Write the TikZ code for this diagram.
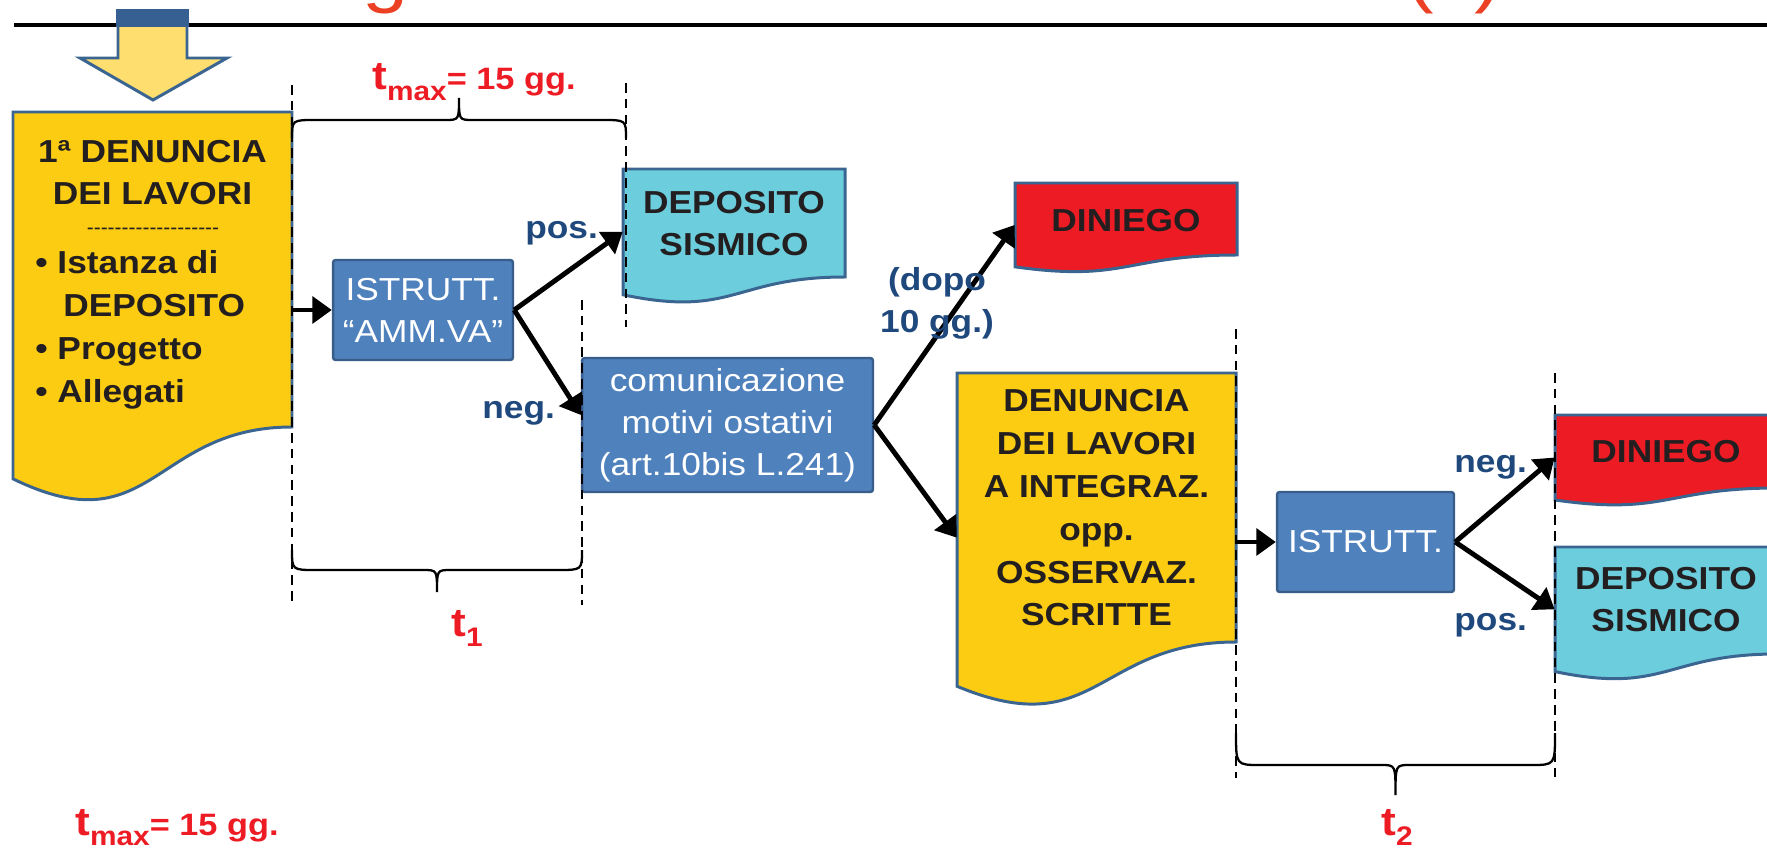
\documentclass[tikz,border=0pt]{standalone}
\usepackage{fontspec}
\setmainfont{Liberation Sans}[FakeStretch=1.11]
\newfontfamily\plainsans{Liberation Sans}
\usepackage{tikz}
\usetikzlibrary{arrows.meta,calc}
\definecolor{docblue}{RGB}{58,101,145}
\definecolor{docyellow}{RGB}{252,204,18}
\definecolor{doccyan}{RGB}{108,205,220}
\definecolor{docred}{RGB}{237,28,36}
\definecolor{boxblue}{RGB}{79,129,189}
\definecolor{boxline}{RGB}{56,93,138}
\definecolor{tagblue}{RGB}{31,73,125}
\definecolor{tred}{RGB}{237,28,36}
\definecolor{titlered}{RGB}{236,64,36}
\definecolor{inkdark}{RGB}{35,31,32}
\definecolor{arrowfill}{RGB}{253,222,110}
\definecolor{arrowtop}{RGB}{55,96,146}
\newcommand{\boxfont}{\fontsize{18.1}{23.8}\selectfont}
\newcommand{\tallfont}{\fontsize{18.1}{24.4}\selectfont}
\tikzstyle{docline}=[draw=docblue, line width=1.7pt]
\tikzstyle{bluebox}=[draw=boxline, fill=boxblue, line width=1.4pt, rounded corners=1.5pt, text=white, font=\boxfont, align=center, inner sep=0pt]
\tikzstyle{doctext}=[text=inkdark, font=\boxfont\bfseries, align=center, inner sep=0pt]
\tikzstyle{flow}=[-{Triangle[length=11pt,width=15pt]}, line width=2.8pt]
\tikzstyle{timeline}=[line width=0.9pt, dash pattern=on 5.5pt off 3.5pt]
\tikzstyle{braceline}=[line width=1.3pt]
\tikzstyle{tag}=[text=tagblue, font=\boxfont\bfseries, inner sep=0pt]
\tikzstyle{tlabel}=[text=tred, font=\fontsize{17.6}{20}\selectfont\bfseries, inner sep=0pt]
\tikzstyle{titlebit}=[text=titlered, font=\fontsize{42.5}{45}\selectfont, anchor=base, inner sep=0pt]
\newcommand{\tsym}[1]{{\fontsize{22.7}{24}\selectfont t}\raisebox{-5.7pt}{\fontsize{15.3}{16}\selectfont #1}}
% document shape: fill, name, left, top, right, bottom at the right edge
\newcommand{\docbox}[6]{
	\pgfmathsetmacro{\docH}{(#6-#4)/0.802}
	\pgfmathsetmacro{\docLB}{#4+0.934*\docH}
	\pgfmathsetmacro{\docCY}{#4+1.107*\docH}
	\pgfmathsetmacro{\docMX}{(#3+#5)/2}
	\pgfmathsetmacro{\docMY}{(#4+\docLB)/2}
	\pgfmathsetmacro{\docW}{(#5-#3)*0.02}
	\pgfmathsetmacro{\docHt}{(\docLB-#4)*0.02}
	\filldraw[docline, fill=#1] (#3,#4) -- (#5,#4) -- (#5,#6) .. controls (\docMX,#6) and (\docMX,\docCY) .. (#3,\docLB) -- cycle;
	\node[inner sep=0pt, minimum width=\docW cm, minimum height=\docHt cm] (#2) at (\docMX,\docMY) {};
}
% curly brace: ends x1, x2 at y #3, straight part at #4, tip at #5
\newcommand{\cbrace}[5]{
	\pgfmathsetmacro{\bmx}{(#1+#2)/2}
	\draw[braceline] (#1,#3) .. controls (#1,#4) .. (#1+24,#4) -- (\bmx-14,#4) .. controls (\bmx,#4) .. (\bmx,#5)
		.. controls (\bmx,#4) .. (\bmx+14,#4) -- (#2-24,#4) .. controls (#2,#4) .. (#2,#3);
}

\begin{document}
\begin{tikzpicture}[x=0.02cm, y=-0.02cm]
	\useasboundingbox (0,0) rectangle (1767,851);
	\clip (0,0) rectangle (1767,851);
%
	\node[titlebit] (titleg) at (386,-1) {g};
	\node[titlebit] (titlelp) at (1420,-1) {(};
	\node[titlebit] (titlerp) at (1488,-1) {)};
	\draw[line width=2.8pt] (14,25) -- (1767,25);
%
	\filldraw[docline, fill=arrowfill] (118,12) -- (187,12) -- (187,58) -- (227,58) -- (153,100) -- (80,58) -- (118,58) -- cycle;
	\fill[arrowtop] (116,9) rectangle (189,27);
%
	\docbox{docyellow}{den1}{13}{112}{292}{427}
	\docbox{doccyan}{dep1}{623}{169}{845}{277}
	\docbox{docred}{din1}{1015}{183}{1237}{255}
	\docbox{docyellow}{den2}{957}{373}{1236}{642}
	\docbox{docred}{din2}{1555}{415}{1777}{488}
	\docbox{doccyan}{dep2}{1555}{547}{1777}{654}
%
	\node[bluebox, minimum width=3.6cm, minimum height=2cm] (ist1) at (423,310) {ISTRUTT.\\“AMM.VA”};
	\node[bluebox, minimum width=5.82cm, minimum height=2.68cm] (com) at (727.5,425) {comunicazione\\motivi ostativi\\(art.10bis L.241)};
	\node[bluebox, minimum width=3.54cm, minimum height=2cm] (ist2) at (1365.5,542) {ISTRUTT.};
%
	\node[doctext, anchor=north] (den1head) at (152.5,140) {1ª DENUNCIA\\DEI LAVORI};
	\node[text=inkdark, font=\plainsans\fontsize{11.9}{12}\selectfont, inner sep=0pt] (den1dash) at (153,231) {-------------------};
	\node[doctext, align=left, anchor=north west, font=\tallfont\bfseries] (den1list) at (35,250) {• Istanza di\\\hspace*{15.9pt}DEPOSITO\\• Progetto\\• Allegati};
	\node[doctext, anchor=north] (dep1text) at (734,191) {DEPOSITO\\SISMICO};
	\node[doctext, anchor=north] (din1text) at (1126,209) {DINIEGO};
	\node[doctext, anchor=north, font=\tallfont\bfseries] (den2text) at (1096.5,389) {DENUNCIA\\DEI LAVORI\\A INTEGRAZ.\\opp.\\OSSERVAZ.\\SCRITTE};
	\node[doctext, anchor=north] (din2text) at (1666,440) {DINIEGO};
	\node[doctext, anchor=north] (dep2text) at (1666,567) {DEPOSITO\\SISMICO};
%
	\draw[flow] (den1.east |- ist1.west) -- (ist1.west);
	\draw[flow] (ist1.east) -- (dep1.west);
	\draw[flow] (ist1.east) -- ($(com.west)+(0,-10)$);
	\draw[flow] (com.east) -- (din1.west);
	\draw[flow] (com.east) -- ($(den2.west)+(0,8)$);
	\draw[flow] (den2.east |- ist2.west) -- (ist2.west);
	\draw[flow] (ist2.east) -- (din2.west);
	\draw[flow] (ist2.east) -- (dep2.west);
%
	\node[tag, anchor=base west] (pos1) at (525,238) {pos.};
	\node[tag, anchor=base west] (neg1) at (482,418) {neg.};
	\node[tag, align=center, anchor=north] (dopo) at (937,267) {(dopo\\10 gg.)};
	\node[tag, anchor=base west] (neg2) at (1454,472) {neg.};
	\node[tag, anchor=base west] (pos2) at (1454,630) {pos.};
%
	\draw[timeline] (292,85) -- (292,605);
	\draw[timeline] (626,83) -- (626,327);
	\draw[timeline] (582,300) -- (582,605);
	\draw[timeline] (1236,329) -- (1236,778);
	\draw[timeline] (1555,373) -- (1555,777);
%
	\cbrace{292}{626}{138}{120}{98}
	\cbrace{292}{582}{550}{570}{592}
	\cbrace{1236}{1555}{733}{765}{795}
%
	\node[tlabel, anchor=base west] (tmaxtop) at (372,90) {\tsym{max}= 15 gg.};
	\node[tlabel, anchor=base west] (tmaxbot) at (75,835) {\tsym{max}= 15 gg.};
	\node[tlabel, anchor=base west] (tone) at (451,636) {\tsym{1}};
	\node[tlabel, anchor=base west] (ttwo) at (1381,835) {\tsym{2}};
\end{tikzpicture}
\end{document}
